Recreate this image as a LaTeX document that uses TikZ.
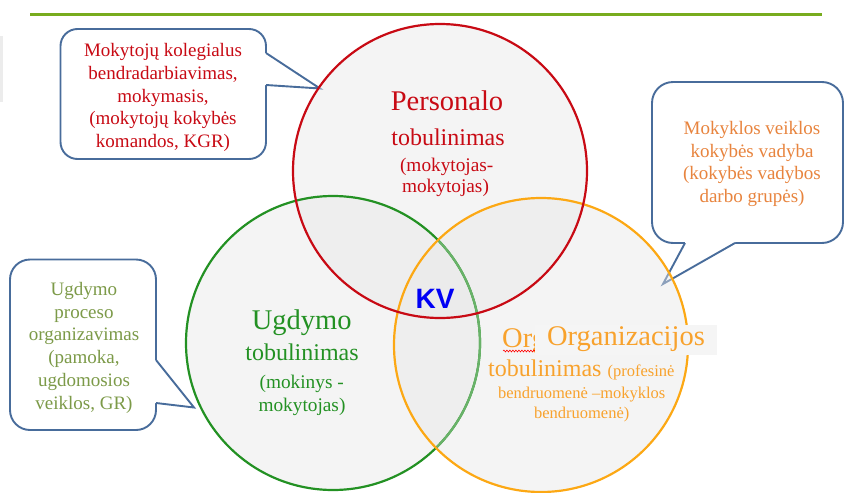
\documentclass[tikz,border=0pt]{standalone}
\usepackage{fontspec}
\setmainfont{Liberation Serif}
\newfontfamily\kvfont{Liberation Sans}
\usetikzlibrary{decorations.pathmorphing}
\definecolor{redc}{RGB}{200,10,20}
\definecolor{greenc}{RGB}{35,145,35}
\definecolor{greenlight}{RGB}{105,178,105}
\definecolor{orangec}{RGB}{252,168,20}
\definecolor{orangetxt}{RGB}{248,162,45}
\definecolor{rbtxt}{RGB}{232,132,62}
\definecolor{lbtxt}{RGB}{124,154,72}
\definecolor{bubblue}{RGB}{72,108,155}
\definecolor{kvblue}{RGB}{0,0,245}
\definecolor{topline}{RGB}{120,172,30}
\definecolor{vennfill}{RGB}{230,230,230}
\definecolor{orgboxc}{RGB}{245,245,245}
\definecolor{edgegray}{RGB}{236,236,236}
\begin{document}
\begin{tikzpicture}[x=1pt,y=-1pt,
  bubble/.style={draw=bubblue, line width=1.9pt, fill=white},
  tail/.style={draw=bubblue, line width=1.9pt, line join=miter},
  venn/.style={circle, minimum size=294pt, inner sep=0pt, fill=vennfill, fill opacity=0.43, text opacity=1},
  ring/.style={line width=2.2pt},
  lbl/.style={inner sep=0pt, anchor=base},
  bt/.style={align=center, inner sep=0pt, font=\fontsize{19}{22.8}\selectfont},
  big/.style={font=\fontsize{28.5}{32}\selectfont},
  mid/.style={font=\fontsize{24}{28}\selectfont},
  small/.style={font=\fontsize{19.3}{23}\selectfont}
]
\useasboundingbox (0,0) rectangle (844,493);
% top rule and left edge artefact
\draw[topline, line width=3pt] (30,14) -- (822,14);
\fill[edgegray] (0,36) rectangle (3,102);

% bubble: top-left
\draw[bubble, rounded corners=17pt] (60.5,29) rectangle (266,159);
\fill[white] (250,53) -- (266,53) -- (320,88.5) -- (266,85) -- (250,85) -- cycle;
\draw[tail] (266,53) -- (320,88.5) -- (266,85);
\node[bt, text=redc] (tl) at (163,97.5) {Mokytojų kolegialus\\bendradarbiavimas,\\mokymasis,\\(mokytojų kokybės\\komandos, KGR)};

% bubble: right
\draw[bubble, rounded corners=21pt] (652,82) rectangle (843,243);
\fill[white] (685,230) -- (685,243) -- (663,284) -- (735,243) -- (735,230) -- cycle;
\draw[tail] (685,243) -- (663,284) -- (735,243);
\node[bt, text=rbtxt] (tr) at (752,164) {Mokyklos veiklos\\kokybės vadyba\\(kokybės vadybos\\darbo grupės)};

% bubble: left
\draw[bubble, rounded corners=20pt] (10,259.5) rectangle (156,430);
\fill[white] (140,360) -- (156,360) -- (194,407.5) -- (156,403) -- (140,403) -- cycle;
\draw[tail] (156,360) -- (194,407.5) -- (156,403);
\node[bt, text=lbtxt] (lb) at (84,347.8) {Ugdymo\\proceso\\organizavimas\\(pamoka,\\ugdomosios\\veiklos, GR)};

% Venn circles: translucent fills
\node[venn] (green) at (333,343) {};
\node[venn] (orange) at (541,345) {};
\node[venn] (red) at (440,171) {};
% outlines
\draw[ring, greenc] (green.center) circle[radius=147pt];
\begin{scope}
  \clip (orange.center) circle[radius=146pt];
  \draw[ring, greenlight] (green.center) circle[radius=147pt];
\end{scope}
\draw[ring, orangec] (orange.center) circle[radius=147pt];
\draw[ring, redc] (red.center) circle[radius=147pt];

% red labels
\node[lbl, big, text=redc] (p1) at (447,110.3) {Personalo};
\node[lbl, mid, text=redc] (p2) at (448,145) {tobulinimas};
\node[lbl, small, text=redc] (p3) at (446.7,171.5) {(mokytojas-};
\node[lbl, small, text=redc] (p4) at (445.5,192.5) {mokytojas)};

% green labels
\node[lbl, big, text=greenc] (u1) at (301.7,329.5) {Ugdymo};
\node[lbl, mid, text=greenc] (u2) at (302,360.5) {tobulinimas};
\node[lbl, small, text=greenc] (u3) at (301.7,388.5) {(mokinys -};
\node[lbl, small, text=greenc] (u4) at (302,411.5) {mokytojas)};

% orange labels
\node[lbl, big, text=orangetxt, anchor=base west] (o0) at (502,347) {Org};
\draw[red, line width=0.6pt, decorate, decoration={snake, amplitude=0.9pt, segment length=3pt}] (o0.base west) ++(1,4) -- ++(32,0);
\node[fill=orgboxc, minimum width=182pt, minimum height=30pt, inner sep=0pt, text=orangetxt, big] (orgbox) at (626,339.5) {Organizacijos};
\node[lbl, anchor=base west, text=orangetxt] (o1) at (488,376.7) {\fontsize{24}{28}\selectfont tobulinimas \fontsize{16.5}{20}\selectfont(profesinė};
\node[lbl, text=orangetxt, font=\fontsize{16.5}{20}\selectfont] (o2) at (581.7,398.3) {bendruomenė –mokyklos};
\node[lbl, text=orangetxt, font=\fontsize{16.5}{20}\selectfont] (o3) at (581.7,418.3) {bendruomenė)};

% centre label
\node[lbl, text=kvblue, font=\kvfont\bfseries\fontsize{28}{30}\selectfont] (kv) at (435,308.3) {KV};
\end{tikzpicture}
\end{document}
